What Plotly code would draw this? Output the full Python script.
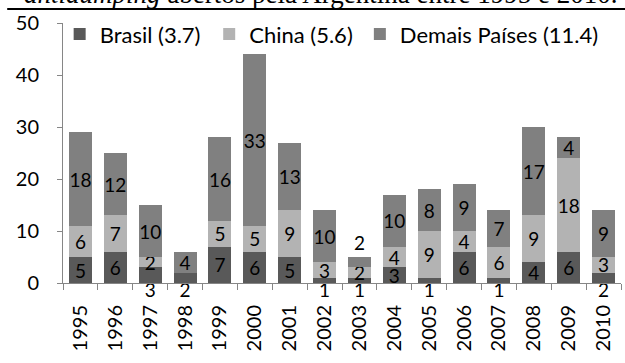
import plotly.graph_objects as go

# Anti-dumping investigations opened by Argentina, by target country
years = ["1995", "1996", "1997", "1998", "1999", "2000", "2001", "2002",
         "2003", "2004", "2005", "2006", "2007", "2008", "2009", "2010"]
brasil = [5, 6, 3, 2, 7, 6, 5, 1, 1, 3, 1, 6, 1, 4, 6, 2]
china = [6, 7, 2, 0, 5, 5, 9, 3, 2, 4, 9, 4, 6, 9, 18, 3]
demais = [18, 12, 10, 4, 16, 33, 13, 10, 2, 10, 8, 9, 7, 17, 4, 9]
series_names = ["Brasil (3.7)", "China (5.6)", "Demais Países (11.4)"]
y_ticks = [0, 10, 20, 30, 40, 50]

# Years whose Brasil label sits under the category axis
brasil_below_axis = {"1997", "1998", "2002", "2003", "2005", "2007", "2010"}
# Years whose "Demais" label sits above the bar
demais_outside = {"2003"}

FONT = "Lato"
LBL = 19
TICK = 20
C_BR, C_CN, C_DM = "#595959", "#b3b3b3", "#808080"
AXIS = "#868686"

br_text = ["" if y in brasil_below_axis else str(v) for y, v in zip(years, brasil)]
cn_text = [str(v) if v > 0 else "" for v in china]
dm_pos = ["outside" if y in demais_outside else "inside" for y in years]

fig = go.Figure()
common = dict(textangle=0, constraintext="none", insidetextanchor="middle",
              insidetextfont=dict(color="black", size=LBL, family=FONT),
              outsidetextfont=dict(color="black", size=LBL, family=FONT),
              cliponaxis=False, hoverinfo="skip", marker_line_width=0)

fig.add_trace(go.Bar(x=years, y=brasil, name=series_names[0], marker_color=C_BR,
                     text=br_text, textposition="inside", legend="legend", **common))
fig.add_trace(go.Bar(x=years, y=china, name=series_names[1], marker_color=C_CN,
                     text=cn_text, textposition="inside", legend="legend2", **common))
fig.add_trace(go.Bar(x=years, y=demais, name=series_names[2], marker_color=C_DM,
                     text=[str(v) for v in demais], textposition=dm_pos,
                     legend="legend3", **common))

# Small Brasil values are labelled just below the axis
below_x = [y for y in years if y in brasil_below_axis]
below_t = [str(v) for y, v in zip(years, brasil) if y in brasil_below_axis]
fig.add_trace(go.Scatter(x=below_x, y=[0] * len(below_x), mode="text", text=below_t,
                         textposition="bottom center", showlegend=False,
                         textfont=dict(size=LBL, family=FONT, color="black"),
                         cliponaxis=False, hoverinfo="skip"))

# One legend box per series so the three entries sit evenly spaced in a row
leg_common = dict(orientation="h", y=1.038, xanchor="left", yanchor="top",
                  font=dict(size=22, family=FONT, color="black"),
                  bgcolor="rgba(0,0,0,0)")

fig.update_layout(
    width=625, height=363,
    margin=dict(l=63, r=4, t=23, b=80),
    barmode="stack", bargap=0.34,
    paper_bgcolor="white", plot_bgcolor="white",
    font=dict(family=FONT, size=LBL, color="black"),
    showlegend=True,
    legend=dict(x=-0.006, **leg_common),
    legend2=dict(x=0.262, **leg_common),
    legend3=dict(x=0.532, **leg_common),
    xaxis=dict(type="category", range=[-0.5, 15.5], tickangle=-90,
               showline=True, linecolor=AXIS, linewidth=1,
               ticks="outside", tickson="boundaries", ticklen=6, tickcolor=AXIS,
               ticklabelstandoff=13, showgrid=False, zeroline=False,
               tickfont=dict(size=TICK, family=FONT, color="black")),
    yaxis=dict(range=[0, 50], tickvals=y_ticks, showline=True, linecolor=AXIS,
               linewidth=1, ticks="outside", ticklen=5, tickcolor=AXIS,
               ticklabelstandoff=14, showgrid=False, zeroline=False,
               tickfont=dict(size=TICK, family=FONT, color="black")),
)

# Caption line above the chart and its rule
fig.add_annotation(text="<i>antidumping</i> abertos pela Argentina entre 1995 e 2010.",
                   xref="paper", yref="paper", x=-0.0735, y=1.0,
                   xanchor="left", yanchor="bottom", yshift=12, showarrow=False,
                   font=dict(family="Liberation Serif", size=27, color="black"))
fig.add_shape(type="line", xref="paper", yref="paper", x0=-0.1, x1=1.01,
              y0=1.054, y1=1.054, line=dict(color="black", width=2))

fig.write_html("out.html")
